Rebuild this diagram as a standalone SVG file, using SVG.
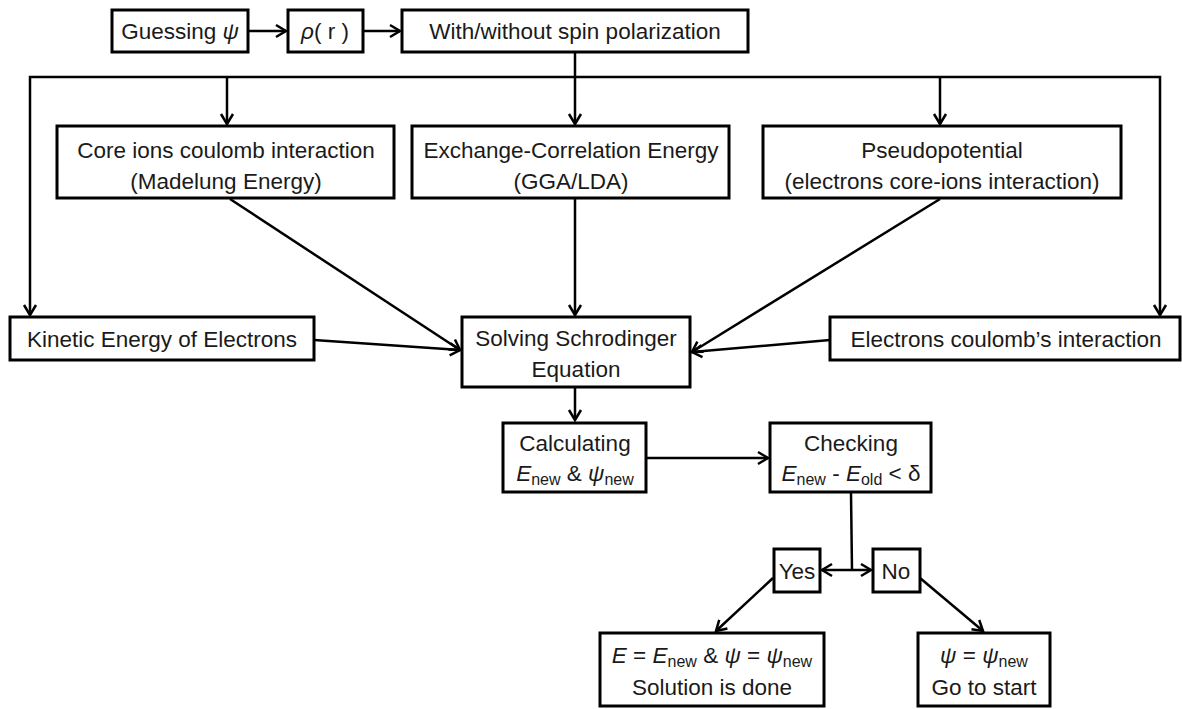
<svg xmlns="http://www.w3.org/2000/svg" width="1182" height="709" viewBox="0 0 1182 709">
<style>
.box{fill:#fff;stroke:#000;stroke-width:3}
.t{font-family:"Liberation Sans",Arial,sans-serif;font-size:22.5px;fill:#1a1a1a;text-anchor:middle}
.i{font-style:italic}
.s{font-size:16px}
.c{fill:none;stroke:#000;stroke-width:2.5}
</style>
<defs>
<marker id="a" markerUnits="userSpaceOnUse" markerWidth="16" markerHeight="16" refX="12" refY="7" orient="auto-start-reverse" viewBox="0 0 16 14">
<path d="M2,1 L12,7 L2,13" fill="none" stroke="#000" stroke-width="2.5"/>
</marker>
</defs>
<rect width="1182" height="709" fill="#fff"/>
<g id="connectors">
<line class="c" x1="248" y1="31" x2="286" y2="31" marker-end="url(#a)"/>
<line class="c" x1="363" y1="31" x2="400" y2="31" marker-end="url(#a)"/>
<polyline class="c" points="575,52 575,77"/>
<polyline class="c" points="30,315 30,77 1160,77 1160,315" marker-start="url(#a)" marker-end="url(#a)"/>
<line class="c" x1="227" y1="77" x2="227" y2="124" marker-end="url(#a)"/>
<line class="c" x1="575" y1="77" x2="575" y2="124" marker-end="url(#a)"/>
<line class="c" x1="940" y1="77" x2="940" y2="124" marker-end="url(#a)"/>
<line class="c" x1="230" y1="199" x2="460" y2="350" marker-end="url(#a)"/>
<line class="c" x1="575" y1="199" x2="575" y2="315" marker-end="url(#a)"/>
<line class="c" x1="940" y1="199" x2="692" y2="352" marker-end="url(#a)"/>
<line class="c" x1="314" y1="340" x2="460" y2="350" marker-end="url(#a)"/>
<line class="c" x1="830" y1="340" x2="692" y2="352" marker-end="url(#a)"/>
<line class="c" x1="575" y1="387" x2="575" y2="420" marker-end="url(#a)"/>
<line class="c" x1="646" y1="458" x2="768" y2="458" marker-end="url(#a)"/>
<polyline class="c" points="851,493 852,570"/>
<line class="c" x1="822" y1="570" x2="871" y2="570" marker-start="url(#a)" marker-end="url(#a)"/>
<line class="c" x1="773" y1="578" x2="716" y2="631" marker-end="url(#a)"/>
<line class="c" x1="920" y1="578" x2="983" y2="631" marker-end="url(#a)"/>
</g>
<g id="guess"><rect class="box" x="112" y="10" width="136" height="42"/><text class="t" x="180" y="39">Guessing <tspan class="i">ψ</tspan></text></g>
<g id="rho"><rect class="box" x="288" y="10" width="75" height="42"/><text class="t" x="325" y="39"><tspan class="i">ρ</tspan>( r )</text></g>
<g id="spin"><rect class="box" x="402" y="10" width="346" height="42"/><text class="t" x="575" y="39">With/without  spin polarization</text></g>
<g id="core"><rect class="box" x="57" y="126" width="337" height="72"/><text class="t" x="226" y="158">Core ions coulomb  interaction</text><text class="t" x="226" y="189">(Madelung Energy)</text></g>
<g id="xc"><rect class="box" x="412" y="126" width="317" height="72"/><text class="t" x="571" y="158">Exchange-Correlation Energy</text><text class="t" x="571" y="189">(GGA/LDA)</text></g>
<g id="pseudo"><rect class="box" x="763" y="126" width="358" height="72"/><text class="t" x="942" y="158">Pseudopotential</text><text class="t" x="942" y="189">(electrons core-ions interaction)</text></g>
<g id="kinetic"><rect class="box" x="10" y="317" width="304" height="43"/><text class="t" x="162" y="347">Kinetic Energy of  Electrons</text></g>
<g id="solve"><rect class="box" x="462" y="317" width="228" height="70"/><text class="t" x="576" y="346">Solving Schrodinger</text><text class="t" x="576" y="377">Equation</text></g>
<g id="coulomb"><rect class="box" x="830" y="317" width="350" height="43"/><text class="t" x="1006" y="347">Electrons coulomb’s interaction</text></g>
<g id="calc"><rect class="box" x="503" y="423" width="143" height="69"/><text class="t" x="575" y="451">Calculating</text><text class="t" x="575" y="481"><tspan class="i">E</tspan><tspan class="s" dy="4">new</tspan><tspan dy="-4"> &amp; </tspan><tspan class="i">ψ</tspan><tspan class="s" dy="4">new</tspan></text></g>
<g id="check"><rect class="box" x="770" y="423" width="161" height="69"/><text class="t" x="851" y="451">Checking</text><text class="t" x="851" y="481"><tspan class="i">E</tspan><tspan class="s" dy="4">new</tspan><tspan dy="-4"> - </tspan><tspan class="i">E</tspan><tspan class="s" dy="4">old</tspan><tspan dy="-4"> &lt; δ</tspan></text></g>
<g id="yes"><rect class="box" x="774" y="549" width="46" height="43"/><text class="t" x="797" y="579">Yes</text></g>
<g id="no"><rect class="box" x="873" y="549" width="47" height="43"/><text class="t" x="896" y="579">No</text></g>
<g id="done"><rect class="box" x="600" y="633" width="224" height="73"/><text class="t" x="712" y="663"><tspan class="i">E</tspan> = <tspan class="i">E</tspan><tspan class="s" dy="4">new</tspan><tspan dy="-4"> &amp;  </tspan><tspan class="i">ψ</tspan> = <tspan class="i">ψ</tspan><tspan class="s" dy="4">new</tspan></text><text class="t" x="712" y="695">Solution is done</text></g>
<g id="restart"><rect class="box" x="918" y="633" width="132" height="73"/><text class="t" x="984" y="663"><tspan class="i">ψ</tspan> = <tspan class="i">ψ</tspan><tspan class="s" dy="4">new</tspan></text><text class="t" x="984" y="695">Go to start</text></g>
</svg>
